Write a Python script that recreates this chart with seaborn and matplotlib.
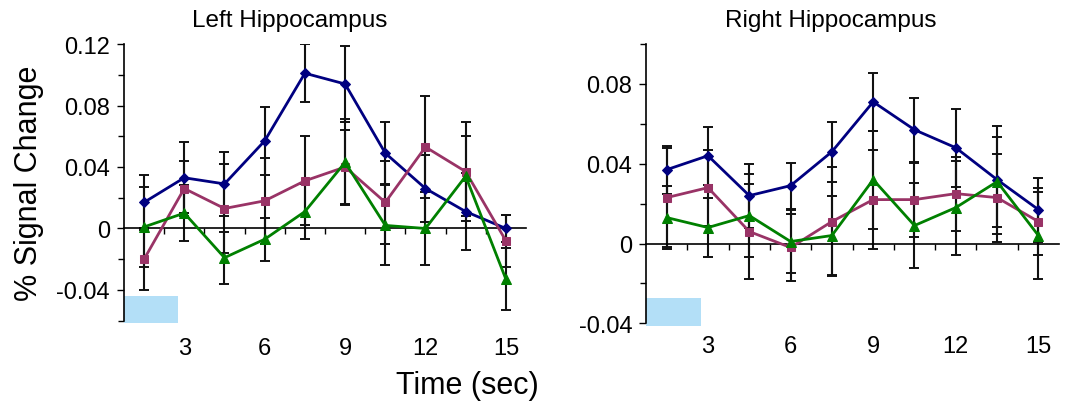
import numpy as np
import pandas as pd
import matplotlib
matplotlib.use("Agg")
import matplotlib.pyplot as plt
import matplotlib.transforms as mtransforms
from matplotlib.patches import Rectangle
from matplotlib.ticker import MultipleLocator
import seaborn as sns

# ---------------- data ----------------
time = [1.5, 3.0, 4.5, 6.0, 7.5, 9.0, 10.5, 12.0, 13.5, 15.0]
time_tick_labels = [3, 6, 9, 12, 15]
stim_onset, stim_offset = 0.75, 2.75

panel_titles = ["Left Hippocampus", "Right Hippocampus"]

left_blue = [0.017, 0.033, 0.029, 0.057, 0.101, 0.094, 0.049, 0.026, 0.011, 0.000]
left_blue_err = [0.018, 0.023, 0.021, 0.022, 0.019, 0.025, 0.020, 0.022, 0.025, 0.009]
left_magenta = [-0.020, 0.026, 0.013, 0.018, 0.031, 0.040, 0.017, 0.053, 0.037, -0.008]
left_magenta_err = [0.020, 0.018, 0.029, 0.028, 0.029, 0.024, 0.027, 0.033, 0.032, 0.017]
left_green = [0.001, 0.010, -0.019, -0.007, 0.011, 0.043, 0.002, 0.000, 0.034, -0.033]
left_green_err = [0.026, 0.018, 0.017, 0.014, 0.018, 0.028, 0.026, 0.024, 0.026, 0.020]

right_blue = [0.037, 0.044, 0.024, 0.029, 0.046, 0.071, 0.057, 0.048, 0.032, 0.017]
right_blue_err = [0.012, 0.0145, 0.016, 0.0115, 0.015, 0.0145, 0.016, 0.0195, 0.027, 0.016]
right_magenta = [0.023, 0.028, 0.006, -0.002, 0.011, 0.022, 0.022, 0.025, 0.023, 0.011]
right_magenta_err = [0.025, 0.019, 0.024, 0.017, 0.0275, 0.025, 0.0185, 0.0185, 0.022, 0.017]
right_green = [0.013, 0.008, 0.014, 0.001, 0.004, 0.032, 0.009, 0.018, 0.031, 0.004]
right_green_err = [0.016, 0.015, 0.021, 0.016, 0.020, 0.0245, 0.0215, 0.0236, 0.0225, 0.022]

series_names = ["blue", "magenta", "green"]
colors = {"blue": "#000080", "magenta": "#993366", "green": "#008000"}
markers = {"blue": "D", "magenta": "s", "green": "^"}
msizes = {"blue": 5, "magenta": 6, "green": 7}

panels = [
    {"blue": (left_blue, left_blue_err), "magenta": (left_magenta, left_magenta_err),
     "green": (left_green, left_green_err)},
    {"blue": (right_blue, right_blue_err), "magenta": (right_magenta, right_magenta_err),
     "green": (right_green, right_green_err)},
]

# ---------------- style ----------------
sns.set_style("ticks")
plt.rcParams["font.family"] = ["Liberation Sans", "DejaVu Sans"]
plt.rcParams["text.color"] = "black"
plt.rcParams["axes.labelcolor"] = "black"
plt.rcParams["xtick.color"] = "black"
plt.rcParams["ytick.color"] = "black"

fig = plt.figure(figsize=(10.65, 4.06), dpi=100)
ax_rects = [[0.1164, 0.2076, 0.3775, 0.6815], [0.6066, 0.2012, 0.3878, 0.688]]
ylims = [(-0.06, 0.12), (-0.04, 0.10)]
title_x = [0.413, 0.448]
label_pads = [12, 8.5]

for i, (rect, panel) in enumerate(zip(ax_rects, panels)):
    ax = fig.add_axes(rect)
    rows = []
    for name in series_names:
        vals, errs = panel[name]
        for t, v, e in zip(time, vals, errs):
            rows.append({"time": t, "value": v, "err": e, "series": name})
    df = pd.DataFrame(rows)

    # error bars (black, capped)
    for name in series_names:
        d = df[df.series == name]
        ax.errorbar(d["time"], d["value"], yerr=d["err"], fmt="none",
                    ecolor="#111111", elinewidth=1.5, capsize=3.5, capthick=1.4, zorder=2)

    # lines with markers
    for name in series_names:
        d = df[df.series == name]
        sns.lineplot(data=d, x="time", y="value", ax=ax, color=colors[name],
                     marker=markers[name], markersize=msizes[name],
                     markeredgecolor=colors[name], linewidth=2.0, zorder=3,
                     legend=False, errorbar=None)

    ax.set_xlim(0.75, 15.75)
    ax.set_ylim(*ylims[i])
    ax.set_xlabel("")
    ax.set_ylabel("")

    # spines
    for s in ["top", "right"]:
        ax.spines[s].set_visible(False)
    ax.spines["left"].set_color("black")
    ax.spines["left"].set_linewidth(1.2)
    ax.spines["bottom"].set_position(("data", 0))
    ax.spines["bottom"].set_color("black")
    ax.spines["bottom"].set_linewidth(1.2)

    # x ticks on the zero line at category boundaries
    boundaries = [t + 0.75 for t in time[:-1]]
    ax.set_xticks(boundaries)
    ax.tick_params(axis="x", direction="out", length=4, width=1, colors="black",
                   labelbottom=False)
    # y ticks
    ax.yaxis.set_major_locator(MultipleLocator(0.04))
    ax.yaxis.set_minor_locator(MultipleLocator(0.02))
    ax.tick_params(axis="y", which="major", direction="out", length=5, width=1,
                   labelsize=17, colors="black", pad=5)
    ax.tick_params(axis="y", which="minor", direction="out", length=4, width=1)
    yt = [v for v in np.arange(-0.04, ylims[i][1] + 1e-9, 0.04)]
    ax.set_yticks(yt)
    ax.set_yticklabels(["0" if abs(v) < 1e-9 else f"{v:.2f}" for v in yt])

    # x labels at bottom
    sec = ax.secondary_xaxis(0.0)
    sec.set_xticks(time_tick_labels)
    sec.set_xticklabels([str(v) for v in time_tick_labels])
    sec.spines["bottom"].set_visible(False)
    sec.tick_params(axis="x", length=0, labelsize=17, pad=label_pads[i], colors="black")

    # stimulus bar
    trans = mtransforms.blended_transform_factory(ax.transData, ax.transAxes)
    ax.add_patch(Rectangle((stim_onset, -0.01), stim_offset - stim_onset, 0.1,
                           transform=trans, facecolor="#b3dff7", edgecolor="none",
                           clip_on=False, zorder=1))

    ax.set_title(panel_titles[i], fontsize=17.5, x=title_x[i], pad=13, color="black")

    if i == 0:
        ax.set_ylabel("% Signal Change", fontsize=22)
        ax.yaxis.set_label_coords(-0.2, 0.5)

fig.text(0.4385, 0.05, "Time (sec)", fontsize=22, ha="center", va="center")

fig.savefig("out.png", dpi=100)
